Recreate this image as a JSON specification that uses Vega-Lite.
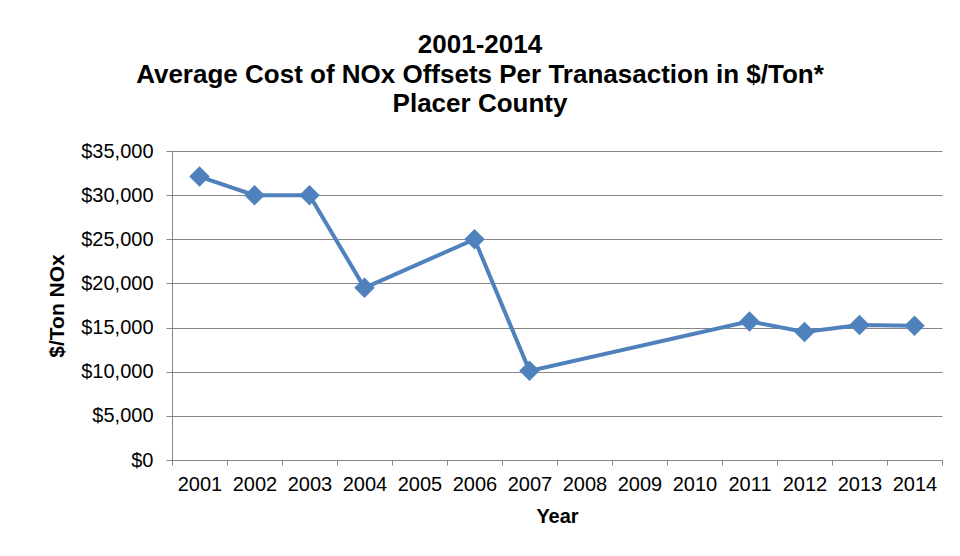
{
  "$schema": "https://vega.github.io/schema/vega-lite/v6.json",
  "width": 770,
  "height": 309,
  "autosize": {"type": "none"},
  "padding": {"left": 172, "top": 151, "right": 18, "bottom": 96},
  "background": "white",
  "title": {
    "text": ["2001-2014", "Average Cost of NOx Offsets Per Tranasaction in $/Ton*", "Placer County"],
    "font": "Liberation Sans",
    "fontSize": 26,
    "fontWeight": "bold",
    "color": "#000000",
    "lineHeight": 29.5,
    "anchor": "middle",
    "frame": "group",
    "dx": -77,
    "offset": 24
  },
  "data": {
    "values": [
      {"Year": "2001", "Cost": 32100},
      {"Year": "2002", "Cost": 30000},
      {"Year": "2003", "Cost": 30000},
      {"Year": "2004", "Cost": 19500},
      {"Year": "2006", "Cost": 25000},
      {"Year": "2007", "Cost": 10100},
      {"Year": "2011", "Cost": 15700},
      {"Year": "2012", "Cost": 14500},
      {"Year": "2013", "Cost": 15300},
      {"Year": "2014", "Cost": 15200}
    ]
  },
  "encoding": {
    "x": {
      "field": "Year",
      "type": "ordinal",
      "scale": {
        "type": "band",
        "paddingInner": 0,
        "paddingOuter": 0,
        "domain": ["2001", "2002", "2003", "2004", "2005", "2006", "2007", "2008", "2009", "2010", "2011", "2012", "2013", "2014"]
      },
      "axis": {
        "title": "Year",
        "labelAngle": 0,
        "tickBand": "extent",
        "grid": false,
        "domainColor": "#868686",
        "tickColor": "#868686",
        "tickSize": 5,
        "labelPadding": 9,
        "labelFont": "Liberation Sans",
        "labelFontSize": 20,
        "labelColor": "#000000",
        "titleFont": "Liberation Sans",
        "titleFontSize": 20,
        "titleFontWeight": "bold",
        "titleColor": "#000000",
        "titlePadding": 12
      }
    },
    "y": {
      "field": "Cost",
      "type": "quantitative",
      "scale": {"domain": [0, 35000], "nice": false},
      "axis": {
        "title": "$/Ton NOx",
        "values": [0, 5000, 10000, 15000, 20000, 25000, 30000, 35000],
        "format": "$,.0f",
        "grid": true,
        "gridColor": "#868686",
        "gridWidth": 1,
        "domainColor": "#868686",
        "tickColor": "#868686",
        "tickSize": 6,
        "labelPadding": 13,
        "labelFont": "Liberation Sans",
        "labelFontSize": 20,
        "labelColor": "#000000",
        "titleFont": "Liberation Sans",
        "titleFontSize": 21,
        "titleFontWeight": "bold",
        "titleColor": "#000000",
        "titlePadding": 13
      }
    }
  },
  "layer": [
    {"mark": {"type": "line", "color": "#4F81BD", "strokeWidth": 4}},
    {"mark": {"type": "point", "shape": "diamond", "filled": true, "color": "#4F81BD", "size": 420, "opacity": 1}}
  ],
  "config": {"view": {"stroke": null}}
}
